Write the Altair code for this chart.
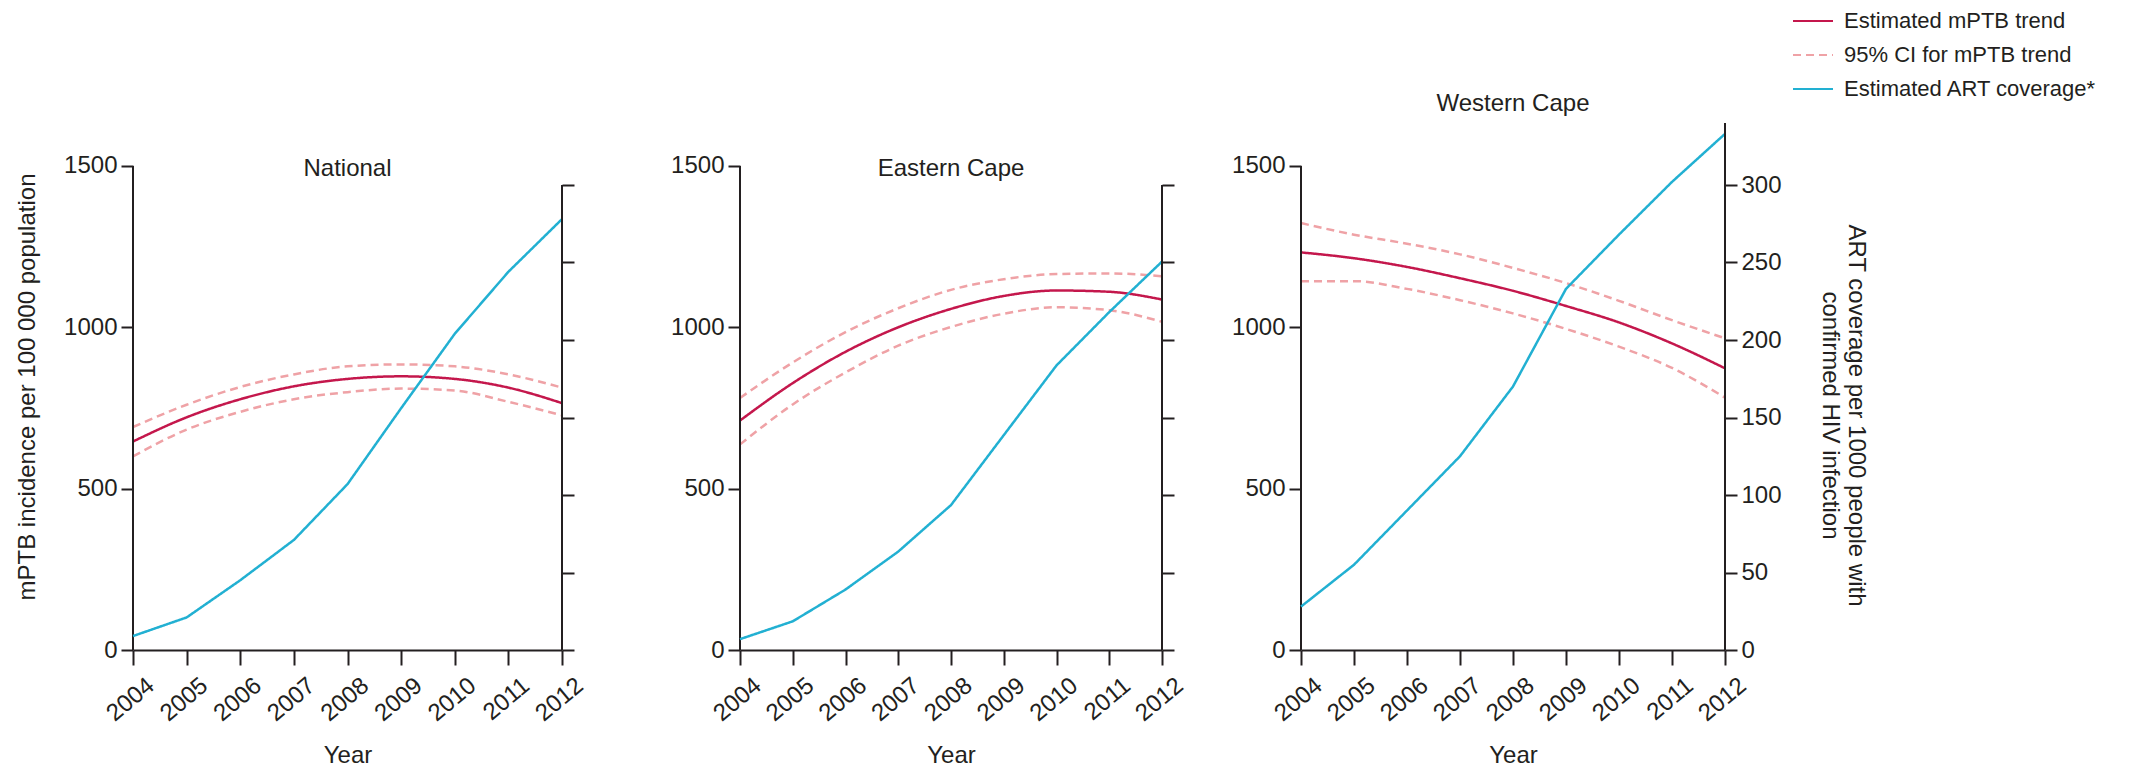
import altair as alt
import pandas as pd

years = [2004, 2005, 2006, 2007, 2008, 2009, 2010, 2011, 2012]
regions = ["National", "Eastern Cape", "Western Cape"]
series_names = ["Estimated mPTB trend", "95% CI for mPTB trend", "Estimated ART coverage*"]

# National
nat_trend = [646, 721, 777, 817, 840, 848, 840, 813, 765]
nat_upper = [691, 760, 815, 854, 879, 885, 879, 854, 813]
nat_lower = [600, 683, 738, 777, 799, 810, 804, 769, 727]
nat_art = [9, 21, 45, 71, 107, 156, 204, 244, 278]

# Eastern Cape
ec_trend = [711, 827, 924, 1000, 1057, 1097, 1114, 1110, 1086]
ec_upper = [781, 891, 985, 1059, 1116, 1149, 1165, 1167, 1158]
ec_lower = [637, 761, 860, 943, 1001, 1042, 1062, 1053, 1017]
ec_art = [7, 18.5, 39, 63.5, 93.5, 138.6, 183.6, 218, 250.6]

# Western Cape
wc_trend = [1232, 1214, 1187, 1152, 1113, 1066, 1015, 950, 873]
wc_upper = [1323, 1287, 1259, 1226, 1184, 1137, 1082, 1022, 966]
wc_lower = [1143, 1143, 1119, 1084, 1043, 995, 940, 874, 782]
wc_art = [28, 55, 90, 125, 170, 233, 268, 302, 333]

left_ticks = [0, 500, 1000, 1500]
right_ticks = [0, 50, 100, 150, 200, 250, 300]

RED = "#C4174C"
PINK = "#EFA2A6"
BLUE = "#22B0D2"
AX = "#231F20"
FONT = "Liberation Sans"

region_data = {
    "National": (nat_trend, nat_upper, nat_lower, nat_art),
    "Eastern Cape": (ec_trend, ec_upper, ec_lower, ec_art),
    "Western Cape": (wc_trend, wc_upper, wc_lower, wc_art),
}

rows = []
for reg in regions:
    tr, up, lo, art = region_data[reg]
    for i, yr in enumerate(years):
        rows.append(dict(region=reg, year=yr, series=series_names[0], bound="trend", value=tr[i]))
        rows.append(dict(region=reg, year=yr, series=series_names[1], bound="upper", value=up[i]))
        rows.append(dict(region=reg, year=yr, series=series_names[1], bound="lower", value=lo[i]))
        rows.append(dict(region=reg, year=yr, series=series_names[2], bound="art", value=art[i]))
df = pd.DataFrame(rows)

one_row = alt.Data(values=[{"k": 1}])

color = alt.Color("series:N", scale=alt.Scale(domain=series_names, range=[RED, PINK, BLUE]), title=None)
dash = alt.StrokeDash("series:N",
                      scale=alt.Scale(domain=series_names, range=[[1, 0], [8, 5], [1, 0]]),
                      title=None)

LEFT_TOP = 1633
RIGHT_TOP = 340

# plot widths of the three panels; the first panel carries extra room on its right
plot_w = [429, 422, 424]
extra_right = [39, 0, 0]


def make_panel(i, region):
    d = df[df.region == region]
    xs = alt.Scale(domain=[2004, 2012], nice=False, zero=False)
    if extra_right[i]:
        xs = alt.Scale(domain=[2004, 2012], nice=False, zero=False, range=[0, plot_w[i]])
    x_enc = alt.X("year:Q", scale=xs,
                  axis=alt.Axis(values=years, format="d", title="Year", labelAngle=-40,
                                labelAlign="right", labelBaseline="top", labelOffset=10,
                                labelPadding=8, labelOverlap=False, tickSize=15, titlePadding=18))
    if i == 0:
        l_axis = alt.Axis(values=left_ticks, format="d", domain=False,
                          title="mPTB incidence per 100 000 population", titlePadding=24)
    else:
        l_axis = alt.Axis(values=left_ticks, format="d", domain=False, title=None)
    if i == 2:
        r_axis = alt.Axis(values=right_ticks, format="d", domain=False, orient="right", labels=True,
                          title=["ART coverage per 1000 people with", "confirmed HIV infection"],
                          titlePadding=36, titleY=292)
    else:
        r_axis = alt.Axis(values=right_ticks, domain=False, orient="right", labels=False, title=None,
                          offset=-extra_right[i])

    red = alt.Chart(d).transform_filter(alt.datum.series != series_names[2]).mark_line(
        interpolate="monotone", strokeWidth=2.5).encode(
        x=x_enc,
        y=alt.Y("value:Q", scale=alt.Scale(domain=[0, LEFT_TOP], nice=False, zero=True), axis=l_axis),
        color=color, strokeDash=dash, detail="bound:N")
    left_rule = alt.Chart(one_row).mark_rule(color=AX, strokeWidth=2).encode(
        x=alt.datum(2004), y=alt.datum(0), y2=alt.datum(1500))
    left = alt.layer(red, left_rule)

    blue = alt.Chart(d).transform_filter(alt.datum.series == series_names[2]).mark_line(
        strokeWidth=2.5).encode(
        x=x_enc,
        y=alt.Y("value:Q", scale=alt.Scale(domain=[0, RIGHT_TOP], nice=False, zero=True), axis=r_axis),
        color=color, strokeDash=dash)
    right_rule = alt.Chart(one_row).mark_rule(color=AX, strokeWidth=2).encode(
        x=alt.datum(2012), y=alt.datum(0), y2=alt.datum(340 if i == 2 else 300))
    right = alt.layer(blue, right_rule)

    dy = 6 if i == 2 else 70
    dx = -extra_right[i] / 2
    return alt.layer(left, right).resolve_scale(y="independent").properties(
        width=plot_w[i] + extra_right[i], height=527,
        title=alt.TitleParams(text=region, fontSize=24, font=FONT, fontWeight="normal", color=AX,
                              anchor="middle", offset=0, baseline="middle", dy=dy, dx=dx))


p1 = make_panel(0, "National")
p2 = make_panel(1, "Eastern Cape")
p3 = make_panel(2, "Western Cape")

chart = alt.hconcat(p1, p2, p3, spacing=139, bounds="flush").properties(
    padding={"left": 15, "top": 0, "right": 5, "bottom": 5}
).configure_view(stroke=None).configure_axis(
    grid=False, domainColor=AX, domainWidth=2, tickColor=AX, tickWidth=2, tickSize=12,
    labelFont=FONT, labelFontSize=24, labelColor=AX, titleFont=FONT, titleFontSize=24,
    titleFontWeight="normal", titleColor=AX, labelPadding=4
).configure_legend(
    orient="none", legendX=1659, legendY=-123, symbolType="stroke", symbolSize=1600,
    symbolStrokeWidth=2, labelFont=FONT, labelFontSize=22, labelColor=AX, rowPadding=2,
    labelOffset=10, padding=0, labelLimit=400
)

chart.save("out.html", embed_options={"renderer": "svg", "actions": False})
